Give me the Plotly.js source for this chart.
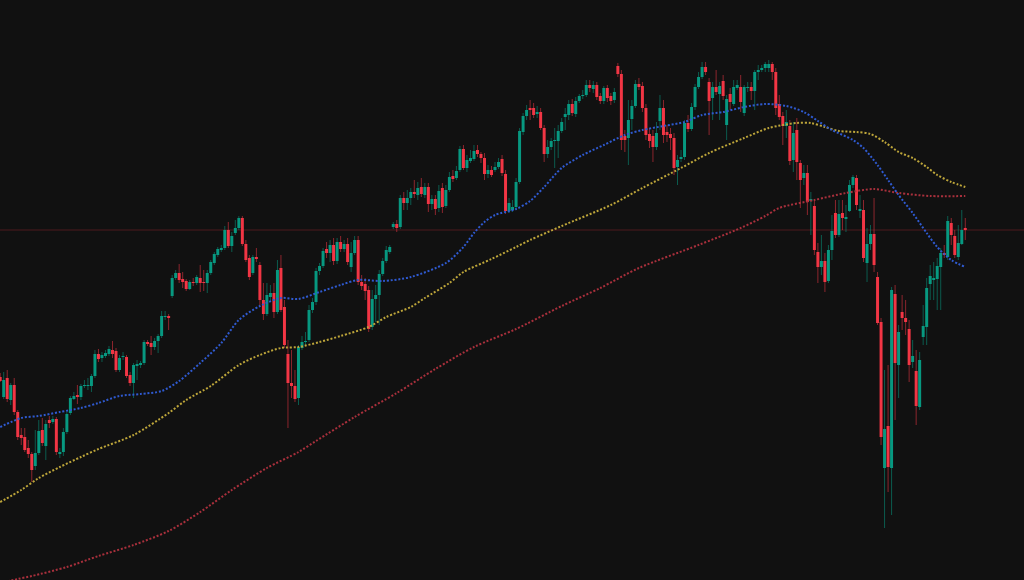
<!DOCTYPE html>
<html><head><meta charset="utf-8">
<script src="https://cdn.plot.ly/plotly-3.0.1.min.js"></script>
<style>html,body{margin:0;padding:0;background:#111111;}#chart{width:1024px;height:580px;}</style>
</head><body><div id="chart"></div>
<script>
// Daily candles (arbitrary price units)
const openP = [203,183,202,180,195,168,145,143,132,126,114,127,150,134,160,158,161,126,128,148,167,181,185,183,194,194,194,204,226,222,
224,226,230,229,210,223,223,205,197,214,215,217,238,237,233,239,244,263,264,284,302,307,301,299,291,298,297,302,298,297,
307,317,325,330,332,350,334,347,352,362,336,322,307,323,315,280,266,283,287,268,312,273,226,197,194,182,232,238,240,270,
278,309,314,331,327,335,319,338,331,336,313,327,340,298,296,290,253,281,285,306,319,328,353,356,353,382,377,382,388,385,
393,385,393,376,381,372,392,374,390,404,402,410,431,412,419,421,430,426,422,406,410,410,413,421,406,369,370,373,398,448,
464,472,472,466,468,452,426,433,439,439,449,463,465,476,466,479,484,485,495,491,495,484,479,492,484,480,514,506,444,442,
461,474,496,494,472,446,444,433,459,472,448,446,442,413,421,423,457,451,473,493,503,513,498,482,493,486,499,455,486,476,
492,493,467,492,493,489,508,510,512,512,516,508,476,464,454,454,420,450,417,402,407,379,374,328,313,319,299,330,367,345,
367,361,369,395,402,369,370,317,336,346,303,258,112,154,112,286,215,268,262,251,218,209,173,243,253,296,300,301,313,327,
323,357,344,323,336,352];
const highP = [207,208,210,197,202,170,152,152,140,128,150,160,162,160,164,164,163,132,152,168,184,188,195,196,200,202,206,230,231,228,
230,234,239,232,225,228,225,208,217,220,219,240,240,244,242,246,269,269,266,305,310,316,308,301,300,302,305,315,310,310,
320,328,333,335,354,358,348,360,364,364,340,325,325,332,318,297,297,295,297,320,325,280,240,230,210,235,244,248,275,282,
312,317,332,338,340,342,342,344,340,342,338,344,344,305,302,294,290,295,310,322,334,335,358,360,385,388,390,392,400,398,
402,397,397,385,385,395,397,395,408,410,414,434,435,425,430,435,435,428,427,415,414,418,422,425,410,382,380,402,452,467,
475,480,477,474,472,455,440,442,452,455,462,472,480,481,483,486,490,500,500,499,498,487,494,495,487,492,517,510,450,480,
480,500,502,498,476,452,450,458,485,480,455,452,447,425,430,460,465,477,496,508,518,518,502,498,510,498,505,485,492,500,
500,505,495,498,498,510,515,515,518,520,518,512,485,468,470,460,458,462,420,415,415,388,380,337,345,327,335,365,380,380,
380,375,400,405,405,385,380,352,355,382,308,262,210,215,293,295,255,285,280,260,240,230,228,275,302,315,318,322,332,335,
364,362,350,355,370,362];
const lowP = [198,181,178,175,165,140,135,128,122,98,110,125,134,120,152,156,125,122,124,146,165,180,176,180,192,190,188,202,218,218,
222,224,222,208,208,220,202,194,182,200,212,215,234,225,230,227,242,260,250,282,300,297,292,289,290,294,295,288,289,287,
305,315,323,328,330,332,328,345,350,334,318,300,305,318,275,260,264,280,262,266,268,232,152,182,178,175,230,235,238,267,
275,305,312,322,318,315,316,328,328,315,308,325,295,290,280,248,250,258,255,304,317,326,351,348,351,370,370,375,382,380,
383,382,368,370,365,368,367,372,388,398,400,408,410,408,417,419,423,417,400,402,403,408,411,404,366,367,368,370,396,445,
460,460,462,462,450,418,422,430,412,422,447,450,460,464,463,477,481,483,488,487,480,476,476,478,475,477,503,430,428,415,
450,472,490,468,440,432,418,430,450,437,438,430,405,395,418,420,448,449,470,491,501,505,445,460,485,460,480,440,470,474,
490,468,464,488,480,470,500,508,508,508,500,465,460,435,442,415,408,400,372,395,365,345,325,297,305,288,297,320,342,343,
350,348,368,392,370,362,318,298,330,308,255,135,52,88,65,160,182,250,245,198,212,155,170,235,235,280,280,270,270,322,
320,335,322,320,335,340];
const closeP = [199,200,181,195,168,143,142,130,126,110,127,149,137,156,157,161,128,128,148,166,182,184,183,194,195,195,204,226,221,225,
227,231,226,210,222,224,204,197,215,216,217,238,236,233,239,244,264,264,262,302,307,300,298,291,298,297,303,297,297,307,
318,326,331,332,350,334,344,352,362,336,320,303,323,321,280,266,285,287,268,310,270,235,197,194,181,233,238,239,270,278,
309,314,329,327,335,319,338,331,336,318,327,340,298,294,289,251,281,285,306,319,330,333,356,352,382,377,382,388,386,392,
386,393,376,381,371,389,373,390,403,401,409,431,412,420,422,429,426,422,406,410,405,413,418,407,369,377,373,398,449,464,
470,470,465,468,452,426,433,439,440,449,458,466,476,467,479,484,485,495,492,495,483,479,492,482,479,488,506,440,440,460,
474,496,493,472,445,439,433,447,472,445,445,442,412,420,423,457,451,473,493,503,513,508,479,493,488,494,484,481,478,493,
495,478,493,493,489,508,510,512,516,516,508,472,463,454,458,419,447,418,400,407,378,381,330,313,319,298,330,349,345,366,
362,363,395,403,375,371,322,336,346,315,257,143,151,113,290,217,248,262,258,215,224,174,220,254,292,304,302,314,327,325,
359,345,325,337,350,350];

// Moving averages, read at sampled candle positions
const ma50Idx = [0,6,11,17,23,28,34,40,46,51,57,63,68,74,80,85,91,97,102,109,117,127,132,135,138,141,147,151,155,160,166,172,178,183,189,195,200,206,212,218,224,229,233,237,243,246,250,253,256,260,264,267,271,275];
const ma50Val = [153,162,164,168,172,177,184,186,189,199,217,237,260,274,282,281,288,295,300,299,303,317,333,347,358,365,371,379,393,412,425,435,445,450,454,458,465,468,473,476,474,468,459,450,440,432,415,400,385,367,347,333,320,313];
const ma100Idx = [0,6,11,17,23,28,38,48,53,60,68,74,80,85,91,97,105,110,117,121,128,132,140,147,151,160,174,183,194,202,212,219,227,231,235,239,244,248,252,256,260,264,267,271,275];
const ma100Val = [78,90,102,113,123,131,145,167,180,194,215,225,232,233,238,244,253,263,273,282,297,308,321,333,340,354,375,392,412,427,442,452,457,457,453,449,448,446,438,428,422,413,405,398,393];
const ma200Idx = [0,5,9,19,28,38,48,57,66,76,85,90,101,113,124,135,147,160,171,182,199,211,218,222,232,241,249,256,265,275];
const ma200Val = [-3,1,4,13,24,35,49,68,90,112,128,139,163,187,211,233,251,274,292,312,335,352,364,372,380,387,391,387,384,384];

const idx = openP.map((_, i) => i);
const bodyHigh = openP.map((o, i) => Math.max(o, closeP[i]));
const bodyLow = openP.map((o, i) => Math.min(o, closeP[i]));
const lastClose = closeP[closeP.length - 1];

function maTrace(xs, ys, color) {
  return {type: 'scatter', mode: 'lines', x: xs, y: ys,
    line: {color: color, width: 2, dash: '2px,1.8px', shape: 'spline', smoothing: 0.8},
    hoverinfo: 'skip', showlegend: false};
}

const traces = [
  maTrace(ma200Idx, ma200Val, '#a8303c'),
  maTrace(ma100Idx, ma100Val, '#bda53a'),
  maTrace(ma50Idx, ma50Val, '#2f5ad0'),
  {type: 'ohlc', x: idx, open: openP, high: highP, low: lowP, close: closeP, tickwidth: 0,
   increasing: {line: {color: 'rgba(8,153,129,0.55)', width: 1}},
   decreasing: {line: {color: 'rgba(242,54,69,0.55)', width: 1}},
   hoverinfo: 'skip', showlegend: false},
  {type: 'candlestick', x: idx, open: openP, high: bodyHigh, low: bodyLow, close: closeP, whiskerwidth: 0,
   increasing: {line: {color: '#089981', width: 0}, fillcolor: '#089981'},
   decreasing: {line: {color: '#F23645', width: 0}, fillcolor: '#F23645'},
   hoverinfo: 'skip', showlegend: false}
];

const layout = {
  width: 1024, height: 580,
  margin: {l: 0, r: 0, t: 0, b: 0, pad: 0},
  paper_bgcolor: '#111111', plot_bgcolor: '#111111',
  showlegend: false, hovermode: false,
  boxgap: 0.08, boxgroupgap: 0.08,
  xaxis: {range: [-0.054, 291.73], showgrid: false, zeroline: false, showticklabels: false,
          ticks: '', showline: false, rangeslider: {visible: false}},
  yaxis: {range: [0, 580], showgrid: false, zeroline: false, showticklabels: false, ticks: '', showline: false},
  shapes: [{type: 'line', xref: 'paper', x0: 0, x1: 1, yref: 'y', y0: lastClose, y1: lastClose,
            line: {color: 'rgba(242,54,69,0.28)', width: 1}, layer: 'below'}]
};

Plotly.newPlot('chart', traces, layout, {staticPlot: true, displayModeBar: false});
</script>
</body></html>
